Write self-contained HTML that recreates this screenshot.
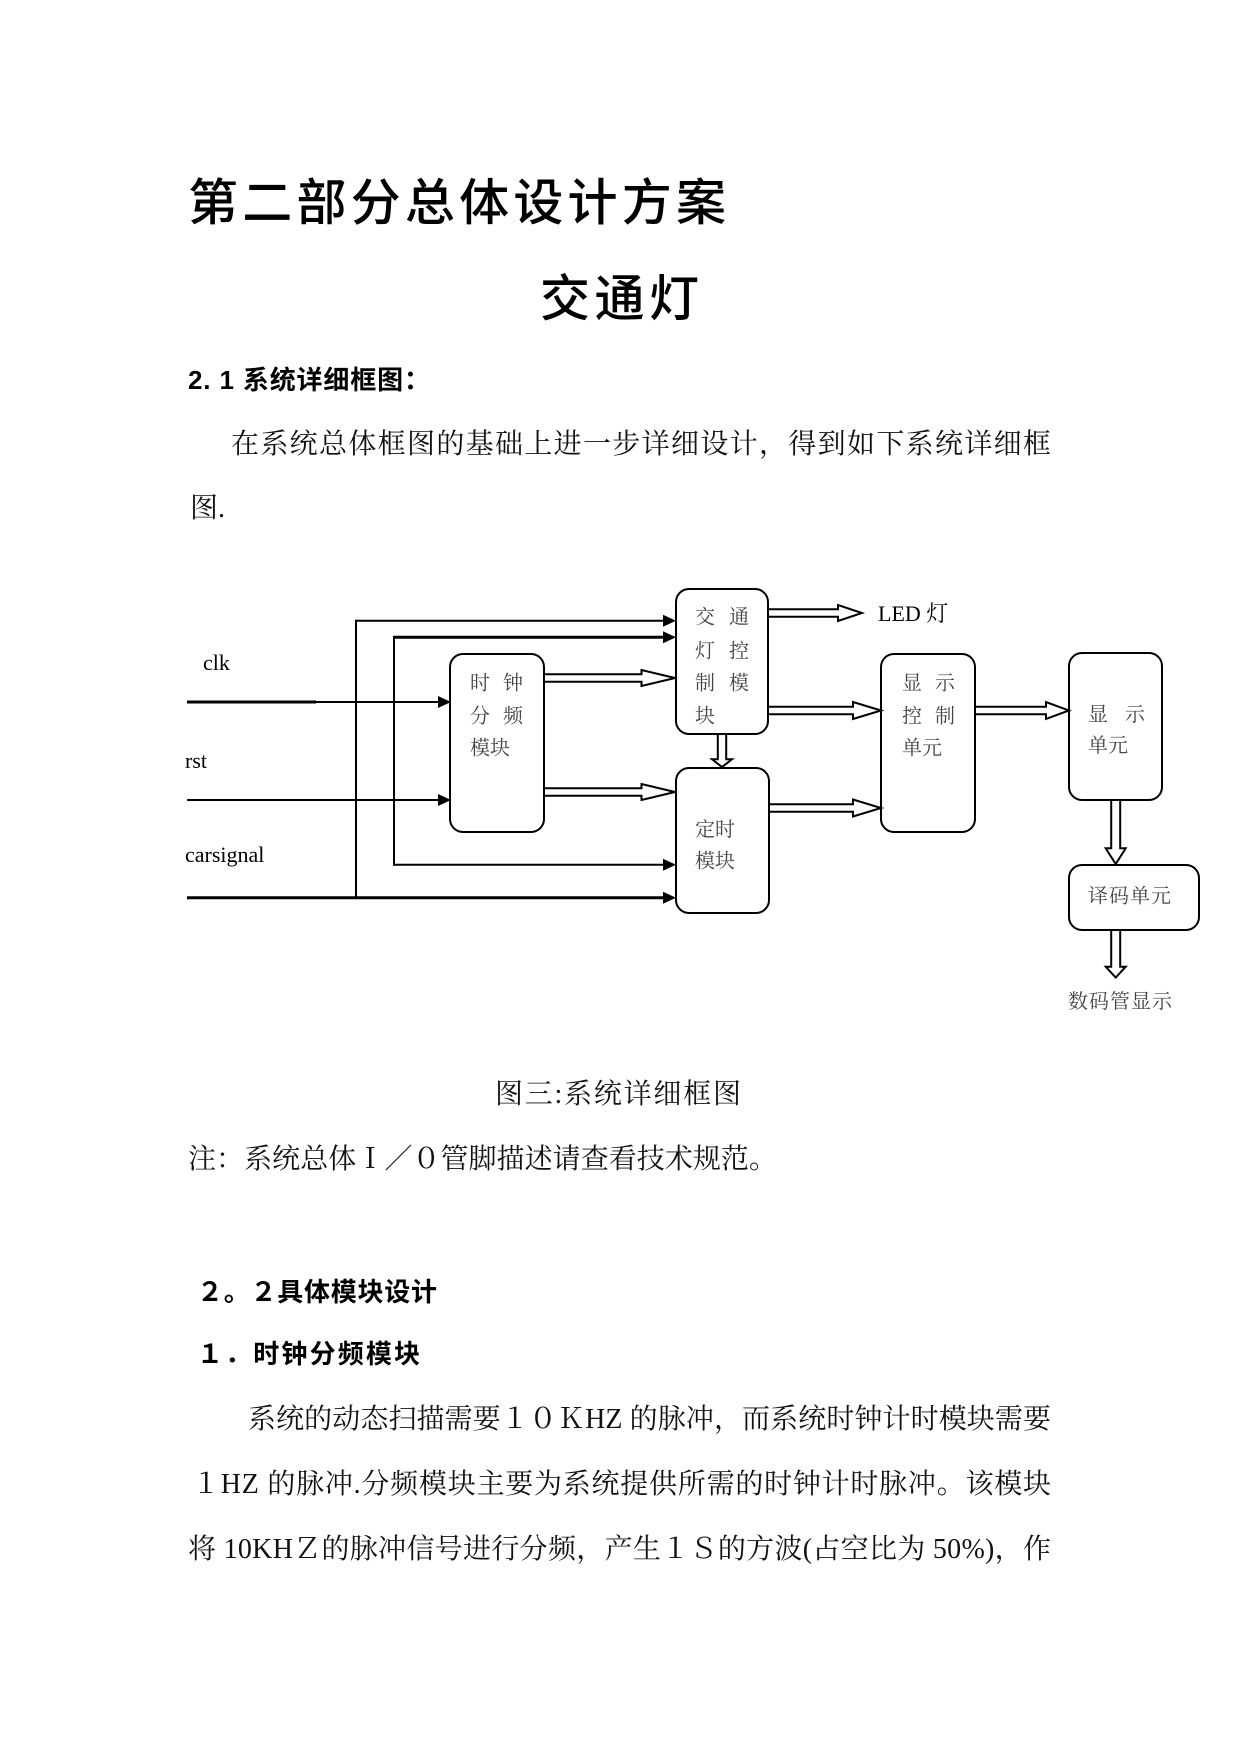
<!DOCTYPE html>
<html>
<head>
<meta charset="utf-8">
<style>
  html, body { margin:0; padding:0; background:#fff; }
  body { width:1241px; height:1754px; overflow:hidden; }
  svg { display:block; }
  .title { font-family:"Liberation Sans","Noto Sans CJK SC",sans-serif; font-weight:500; font-size:50px; fill:#000; }
  .head { font-family:"Liberation Sans","Noto Sans CJK SC",sans-serif; font-weight:700; font-size:26px; fill:#000; }
  .body { font-family:"Liberation Serif","Noto Serif CJK SC",serif; font-size:28px; fill:#111; }
  .lbl { font-family:"Liberation Serif","Noto Serif CJK SC",serif; font-size:20px; fill:#444; }
  .lat { font-family:"Liberation Serif","Noto Serif CJK SC",serif; font-size:22px; fill:#000; }
</style>
</head>
<body>
<svg width="1241" height="1754" viewBox="0 0 1241 1754" xmlns="http://www.w3.org/2000/svg">
  <rect x="0" y="0" width="1241" height="1754" fill="#fff"/>

  <!-- Titles -->
  <text class="title" x="188" y="220" textLength="538" lengthAdjust="spacing">第二部分总体设计方案</text>
  <text class="title" x="540" y="316" textLength="159" lengthAdjust="spacing">交通灯</text>

  <text class="head" x="188" y="389" textLength="242" lengthAdjust="spacing">2. 1 系统详细框图：</text>

  <text class="body" x="231" y="453" textLength="820" lengthAdjust="spacing">在系统总体框图的基础上进一步详细设计，得到如下系统详细框</text>
  <text class="body" x="190" y="517">图.</text>

  <!-- Diagram -->
  <g fill="none" stroke="#000" stroke-width="2">
    <!-- boxes -->
    <rect x="450" y="654" width="94" height="178" rx="13" ry="13"/>
    <rect x="676" y="589" width="92" height="145" rx="13" ry="13"/>
    <rect x="676" y="768" width="93" height="145" rx="13" ry="13"/>
    <rect x="881" y="654" width="94" height="178" rx="13" ry="13"/>
    <rect x="1069" y="653" width="93" height="147" rx="13" ry="13"/>
    <rect x="1069" y="865" width="130" height="65" rx="13" ry="13"/>

    <!-- input lines -->
    <line x1="356" y1="620.7" x2="664" y2="620.7"/>
    <line x1="356" y1="619.7" x2="356" y2="898.5"/>
    <line x1="394" y1="637.3" x2="664" y2="637.3" stroke-width="3"/>
    <line x1="394" y1="636" x2="394" y2="865.7"/>
    <line x1="394" y1="864.7" x2="664" y2="864.7"/>
    <line x1="187" y1="702" x2="316" y2="702" stroke-width="3"/>
    <line x1="316" y1="702" x2="440" y2="702"/>
    <line x1="187" y1="800" x2="440" y2="800"/>
    <line x1="187" y1="897.7" x2="664" y2="897.7" stroke-width="3"/>
  </g>

  <!-- filled arrowheads -->
  <g fill="#000" stroke="none">
    <polygon points="663,614.7 676,620.7 663,626.7"/>
    <polygon points="663,631.3 676,637.3 663,643.3"/>
    <polygon points="663,858.7 676,864.7 663,870.7"/>
    <polygon points="663,891.7 676,897.7 663,903.7"/>
    <polygon points="438,696 451,702 438,708"/>
    <polygon points="438,794 451,800 438,806"/>
  </g>

  <!-- hollow double arrows -->
  <g fill="#fff" stroke="#000" stroke-width="2" stroke-linejoin="miter">
    <polygon points="544,674.2 641.5,674.2 641.5,670 675,678 641.5,686 641.5,681.8 544,681.8"/>
    <polygon points="544,788.2 641.5,788.2 641.5,784 675,792 641.5,800 641.5,795.8 544,795.8"/>
    <polygon points="768,609.2 838,609.2 838,605 862,613 838,621 838,616.8 768,616.8"/>
    <polygon points="768,706.7 853,706.7 853,702 881,710.5 853,719 853,714.3 768,714.3"/>
    <polygon points="769,804.2 853,804.2 853,799.5 881,808 853,816.5 853,811.8 769,811.8"/>
    <polygon points="975,706.7 1046,706.7 1046,702 1069,710.5 1046,719 1046,714.3 975,714.3"/>
    <!-- down arrows -->
    <polygon points="717.8,734 717.8,759.3 712,759.3 722,767 732,759.3 726.2,759.3 726.2,734"/>
    <polygon points="1111.2,800 1111.2,848.3 1105.7,848.3 1115.7,864 1125.7,848.3 1120.2,848.3 1120.2,800"/>
    <polygon points="1111.2,930 1111.2,966.7 1105.7,966.7 1115.7,977.5 1125.7,966.7 1120.2,966.7 1120.2,930"/>
  </g>

  <!-- Latin labels -->
  <text class="lat" x="203" y="670">clk</text>
  <text class="lat" x="185" y="768">rst</text>
  <text class="lat" x="185" y="862">carsignal</text>
  <text class="lat" x="878" y="621">LED 灯</text>

  <!-- Box labels -->
  <text class="lbl" x="470 503" y="689.3">时钟</text>
  <text class="lbl" x="470 503" y="722.6">分频</text>
  <text class="lbl" x="470 490" y="754.3">模块</text>

  <text class="lbl" x="695 729" y="623.3">交通</text>
  <text class="lbl" x="695 729" y="657.6">灯控</text>
  <text class="lbl" x="695 729" y="689.3">制模</text>
  <text class="lbl" x="695" y="722.6">块</text>

  <text class="lbl" x="695 715" y="836">定时</text>
  <text class="lbl" x="695 715" y="867.6">模块</text>

  <text class="lbl" x="902 935" y="689.3">显示</text>
  <text class="lbl" x="902 935" y="722.6">控制</text>
  <text class="lbl" x="902 922" y="754.3">单元</text>

  <text class="lbl" x="1088 1125" y="721">显示</text>
  <text class="lbl" x="1088 1108" y="752">单元</text>

  <text class="lbl" x="1088 1109 1130 1151" y="902.6">译码单元</text>
  <text class="lbl" x="1068 1089 1110 1131 1152" y="1008">数码管显示</text>

  <!-- caption & note -->
  <text class="body" x="495" y="1103" textLength="246" lengthAdjust="spacing">图三:系统详细框图</text>
  <text class="body" x="188" y="1168" textLength="589" lengthAdjust="spacing">注：系统总体Ｉ／０管脚描述请查看技术规范。</text>

  <!-- Section 2.2 -->
  <text class="head" x="197" y="1301" textLength="240" lengthAdjust="spacing">２。２具体模块设计</text>
  <text class="head" x="197" y="1363" textLength="223" lengthAdjust="spacing">１．时钟分频模块</text>

  <text class="body" x="248" y="1428" textLength="803" lengthAdjust="spacing">系统的动态扫描需要１０ＫHZ 的脉冲，而系统时钟计时模块需要</text>
  <text class="body" x="192" y="1493" textLength="859" lengthAdjust="spacing">１HZ 的脉冲.分频模块主要为系统提供所需的时钟计时脉冲。该模块</text>
  <text class="body" x="188" y="1558" textLength="863" lengthAdjust="spacing">将 10KHＺ的脉冲信号进行分频，产生１Ｓ的方波(占空比为 50%)，作</text>
</svg>
</body>
</html>
